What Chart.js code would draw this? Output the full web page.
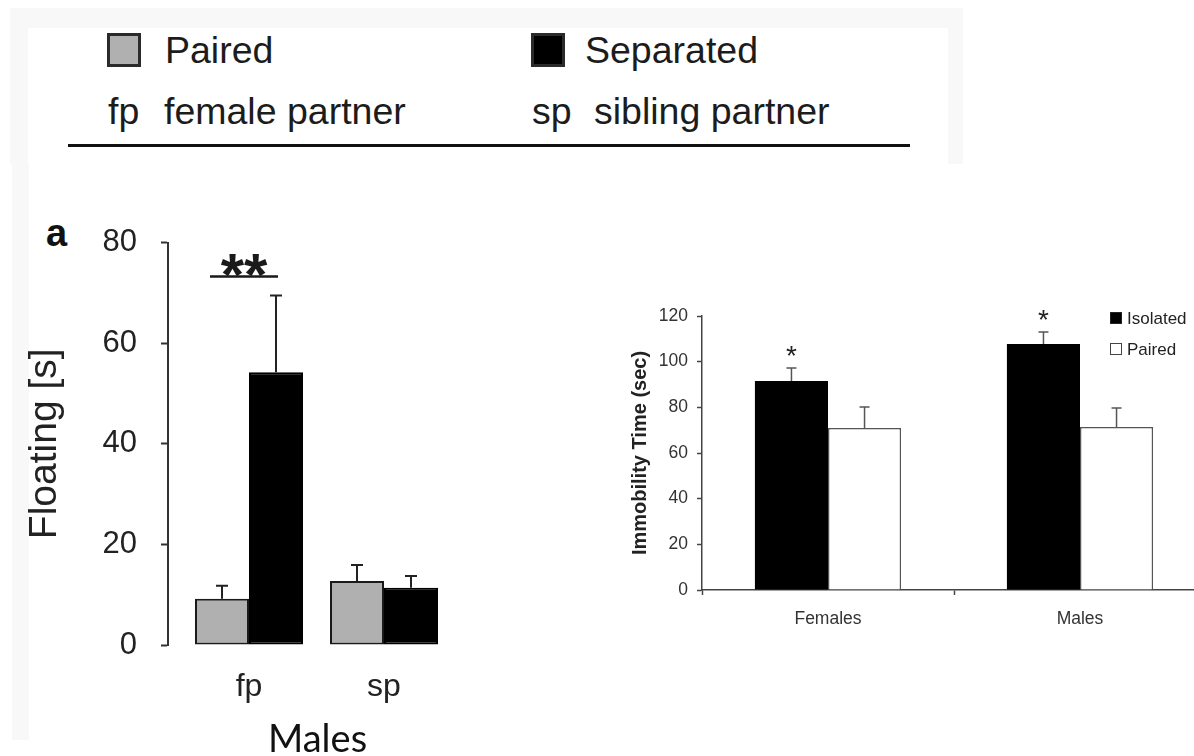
<!DOCTYPE html>
<html>
<head>
<meta charset="utf-8">
<script src="https://cdn.jsdelivr.net/npm/chart.js@4.4.1/dist/chart.umd.min.js"></script>
<style>
  html, body { margin: 0; padding: 0; width: 1194px; height: 756px; overflow: hidden; background: #fff; }
  .abs { position: absolute; }
  .key-text { font-family: "Liberation Sans", Arial, sans-serif; font-size: 37.5px; line-height: 1; color: #1c1c1c; white-space: nowrap; }
  .swatch { box-sizing: border-box; width: 34px; height: 34px; border: 3px solid #2a2a2a; }
  .mini-key { font-family: "Liberation Sans", Arial, sans-serif; font-size: 17px; line-height: 1; color: #222; white-space: nowrap; }
  .mini-swatch { box-sizing: border-box; width: 12px; height: 12px; border: 1.5px solid #222; }
  #caption { font-family: Lato, "Open Sans", sans-serif; font-size: 38px; line-height: 1; color: #111; white-space: nowrap; }
  canvas { position: absolute; }
</style>
</head>
<body>

<!-- faint panel backgrounds -->
<div class="abs" style="left:10px; top:8px; width:953px; height:156px; background:#f8f8f8;"></div>
<div class="abs" style="left:28px; top:28px; width:920px; height:136px; background:#fff;"></div>
<div class="abs" style="left:12px; top:164px; width:17px; height:576px; background:#f8f8f8;"></div>

<!-- shared key for the floating-time panel -->
<div class="abs swatch" id="swA" style="left:107px; top:33px; background:#b0b0b0;"></div>
<div class="abs key-text" id="lbA" style="left:165px; top:32px;"></div>
<div class="abs swatch" id="swB" style="left:531px; top:33px; background:#000;"></div>
<div class="abs key-text" id="lbB" style="left:585px; top:32px;"></div>
<div class="abs key-text" id="abA" style="left:108px; top:93px;"></div>
<div class="abs key-text" id="nmA" style="left:164px; top:93px;"></div>
<div class="abs key-text" id="abB" style="left:532px; top:93px;"></div>
<div class="abs key-text" id="nmB" style="left:594px; top:93px;"></div>
<div class="abs" style="left:68px; top:144px; width:842px; height:3px; background:#111;"></div>

<div class="abs" style="left:46px; top:214px; font-family:'Liberation Sans',Arial,sans-serif; font-weight:bold; font-size:38px; line-height:1; color:#111;">a</div>

<canvas id="floatChart" width="470" height="520" style="left:0px; top:200px;"></canvas>
<canvas id="immChart" width="640" height="360" style="left:580px; top:280px;"></canvas>

<!-- key for the immobility panel -->
<div class="abs mini-swatch" id="swI" style="left:1110px; top:312px; background:#000;"></div>
<div class="abs mini-key" id="lbI" style="left:1127px; top:310px;"></div>
<div class="abs mini-swatch" id="swP" style="left:1110px; top:343px; background:#fff; border-color:#444;"></div>
<div class="abs mini-key" id="lbP" style="left:1127px; top:341px;"></div>

<div class="abs" id="caption" style="left:268px; top:718px;">Males</div>

<script>
// ---- Floating time (panel a) ----
const partnerCategories = ['fp', 'sp'];
const partnerNames = ['female partner', 'sibling partner'];
const floatSeries = ['Paired', 'Separated'];
const floatPaired = [9.2, 12.7];
const floatPairedErr = [2.6, 3.2];
const floatSeparated = [54.2, 11.4];
const floatSeparatedErr = [15.3, 2.3];
const floatSignificance = ['**', ''];
const floatTicks = [0, 20, 40, 60, 80];

// ---- Immobility time ----
const sexCategories = ['Females', 'Males'];
const immSeries = ['Isolated', 'Paired'];
const immIsolated = [91.5, 107.7];
const immIsolatedErr = [5.7, 5.3];
const immPaired = [71.0, 71.4];
const immPairedErr = [9.1, 8.3];
const immSignificance = ['*', '*'];
const immTicks = [0, 20, 40, 60, 80, 100, 120];

// key texts
document.getElementById('lbA').textContent = floatSeries[0];
document.getElementById('lbB').textContent = floatSeries[1];
document.getElementById('abA').textContent = partnerCategories[0];
document.getElementById('nmA').textContent = partnerNames[0];
document.getElementById('abB').textContent = partnerCategories[1];
document.getElementById('nmB').textContent = partnerNames[1];
document.getElementById('lbI').textContent = immSeries[0];
document.getElementById('lbP').textContent = immSeries[1];

const valueOf = d => (d !== null && typeof d === 'object') ? d.y : d;

// upward error whiskers with a cap, drawn from each bar's top
const errorBars = {
  id: 'errorBars',
  afterDatasetsDraw(chart, args, opts) {
    const { ctx } = chart;
    const y = chart.scales.y;
    ctx.save();
    ctx.strokeStyle = opts.color;
    ctx.lineWidth = opts.width;
    chart.data.datasets.forEach((ds, di) => {
      if (!ds.errors) return;
      chart.getDatasetMeta(di).data.forEach((bar, i) => {
        const v = valueOf(ds.data[i]);
        const top = y.getPixelForValue(v + ds.errors[i]);
        ctx.beginPath();
        ctx.moveTo(bar.x, bar.y);
        ctx.lineTo(bar.x, top);
        ctx.moveTo(bar.x - opts.cap, top);
        ctx.lineTo(bar.x + opts.cap, top);
        ctx.stroke();
      });
    });
    ctx.restore();
  }
};

// significance marks above the error whisker of a given series
const sigMarks = {
  id: 'sigMarks',
  afterDraw(chart, args, opts) {
    const { ctx } = chart;
    const y = chart.scales.y;
    const ds = chart.data.datasets[opts.series];
    const meta = chart.getDatasetMeta(opts.series);
    ctx.save();
    ctx.fillStyle = opts.color;
    ctx.strokeStyle = opts.color;
    ctx.font = opts.font;
    ctx.textAlign = 'center';
    ctx.textBaseline = 'alphabetic';
    opts.marks.forEach((m, i) => {
      if (!m) return;
      const bar = meta.data[i];
      const cap = y.getPixelForValue(valueOf(ds.data[i]) + ds.errors[i]);
      if (opts.bracketWith !== undefined) {
        const other = chart.getDatasetMeta(opts.bracketWith).data[i];
        const x0 = other.x - 12, x1 = bar.x + 2;
        const ly = cap - opts.lift;
        ctx.lineWidth = 2.5;
        ctx.beginPath();
        ctx.moveTo(x0, ly);
        ctx.lineTo(x1, ly);
        ctx.stroke();
        ctx.fillText(m, (x0 + x1) / 2, ly + opts.textDrop);
      } else {
        ctx.fillText(m, bar.x, cap - opts.lift + opts.textDrop);
      }
    });
    ctx.restore();
  }
};

const sans = '"Liberation Sans", Arial, sans-serif';

// ---- panel a ----
new Chart(document.getElementById('floatChart'), {
  type: 'bar',
  data: {
    datasets: [
      {
        label: floatSeries[0],
        data: floatPaired.map((v, i) => ({ x: i + 1, y: v })),
        errors: floatPairedErr,
        backgroundColor: '#b0b0b0',
        borderColor: '#1a1a1a',
        borderWidth: 2,
        borderSkipped: false
      },
      {
        label: floatSeries[1],
        data: floatSeparated.map((v, i) => ({ x: i + 1, y: v })),
        errors: floatSeparatedErr,
        backgroundColor: '#000',
        borderColor: '#000',
        borderWidth: 2,
        borderSkipped: false
      }
    ]
  },
  options: {
    responsive: false,
    animation: false,
    events: [],
    layout: { padding: { top: 30, right: 11.75, left: 0, bottom: 0 } },
    datasets: { bar: { categoryPercentage: 0.8, barPercentage: 1.0 } },
    plugins: {
      legend: { display: false },
      tooltip: { enabled: false },
      errorBars: { color: '#222', width: 2, cap: 6 },
      sigMarks: { series: 1, bracketWith: 0, marks: floatSignificance, color: '#1a1a1a',
                  font: 'bold 60px ' + sans, lift: 19, textDrop: 19 }
    },
    scales: {
      x: {
        type: 'linear',
        offset: false,
        min: 0.4,
        max: 2.55,
        afterBuildTicks: s => { s.ticks = partnerCategories.map((_, i) => ({ value: i + 1 })); },
        afterFit: s => { s.height = 75; },
        grid: { display: false, drawTicks: false, offset: false },
        border: { display: false },
        ticks: {
          callback: v => partnerCategories[Math.round(v) - 1],
          font: { family: sans, size: 32 },
          color: '#222',
          padding: 23,
          maxRotation: 0
        }
      },
      y: {
        min: 0,
        max: 80,
        afterBuildTicks: s => { s.ticks = floatTicks.map(v => ({ value: v })); },
        afterFit: s => { s.width = 168; },
        grid: { drawOnChartArea: false, drawTicks: true, tickLength: 7, color: '#333', tickWidth: 2 },
        border: { display: true, color: '#333', width: 2 },
        ticks: { font: { family: sans, size: 31 }, color: '#222', padding: 24 },
        title: {
          display: true,
          text: 'Floating [s]',
          font: { family: sans, size: 39 },
          color: '#222',
          padding: { top: 22, bottom: 0 }
        }
      }
    }
  },
  plugins: [errorBars, sigMarks]
});

// ---- immobility panel ----
new Chart(document.getElementById('immChart'), {
  type: 'bar',
  data: {
    labels: sexCategories,
    datasets: [
      {
        label: immSeries[0],
        data: immIsolated,
        errors: immIsolatedErr,
        backgroundColor: '#000',
        borderWidth: 0
      },
      {
        label: immSeries[1],
        data: immPaired,
        errors: immPairedErr,
        backgroundColor: '#fff',
        borderColor: '#555',
        borderWidth: 1.5
      }
    ]
  },
  options: {
    responsive: false,
    animation: false,
    events: [],
    layout: { padding: { top: 36, right: 14, left: 0, bottom: 0 } },
    datasets: { bar: { categoryPercentage: 0.58, barPercentage: 1.0 } },
    plugins: {
      legend: { display: false },
      tooltip: { enabled: false },
      errorBars: { color: '#555', width: 1.5, cap: 5 },
      sigMarks: { series: 0, marks: immSignificance, color: '#222',
                  font: '28px ' + sans, lift: 19, textDrop: 16 }
    },
    scales: {
      x: {
        afterFit: s => { s.height = 50; },
        grid: { drawOnChartArea: false, drawTicks: true, tickLength: 5, color: '#444', tickWidth: 1.5 },
        border: { display: true, color: '#444', width: 1.5 },
        ticks: { font: { family: sans, size: 17.5 }, color: '#333', padding: 14 }
      },
      y: {
        min: 0,
        max: 120,
        afterBuildTicks: s => { s.ticks = immTicks.map(v => ({ value: v })); },
        afterFit: s => { s.width = 122; },
        grid: { drawOnChartArea: false, drawTicks: true, tickLength: 5, color: '#444', tickWidth: 1.5 },
        border: { display: true, color: '#444', width: 1.5 },
        ticks: { font: { family: sans, size: 17.5 }, color: '#333', padding: 9 },
        title: {
          display: true,
          text: 'Immobility Time (sec)',
          font: { family: sans, size: 20, weight: 'bold' },
          color: '#222',
          padding: { top: 48, bottom: 0 }
        }
      }
    }
  },
  plugins: [errorBars, sigMarks]
});
</script>
</body>
</html>
